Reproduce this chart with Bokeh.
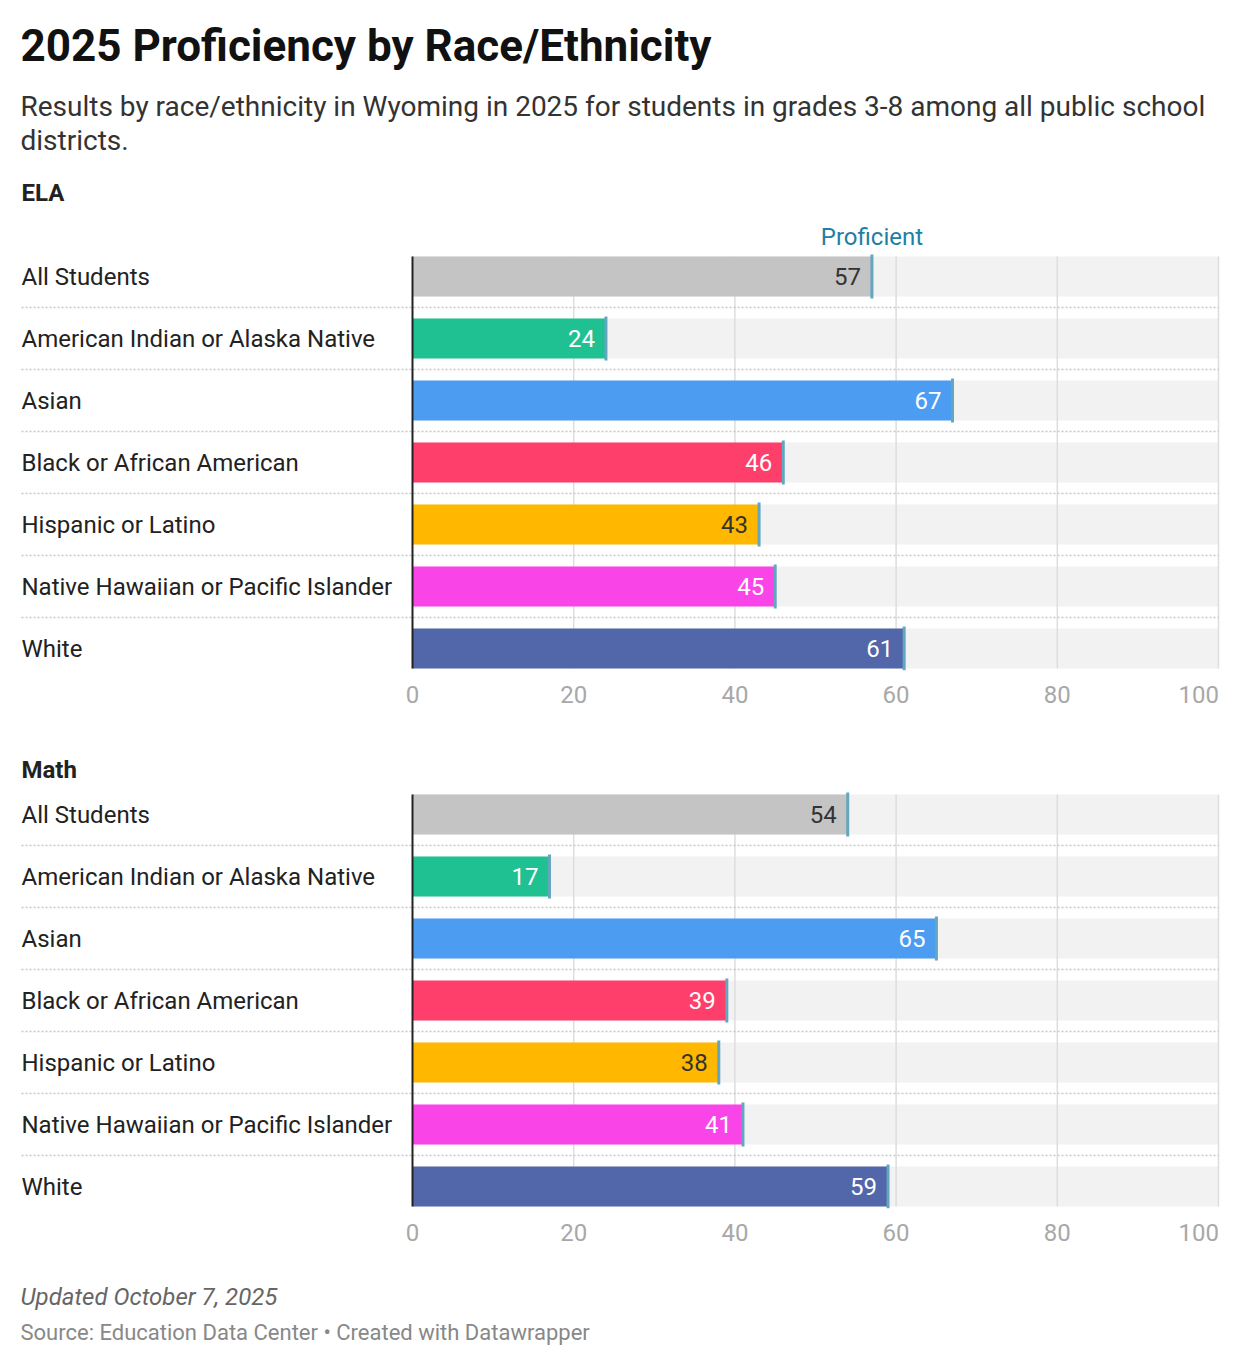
from bokeh.plotting import figure
from bokeh.layouts import column
from bokeh.models import Range1d, FixedTicker
from bokeh.core.properties import value
from bokeh.embed import file_html
from bokeh.resources import INLINE

# ---------------- data ----------------
groups = ["All Students", "American Indian or Alaska Native", "Asian",
          "Black or African American", "Hispanic or Latino",
          "Native Hawaiian or Pacific Islander", "White"]
ela_values = [57, 24, 67, 46, 43, 45, 61]
math_values = [54, 17, 65, 39, 38, 41, 59]
bar_colors = ["#c4c4c4", "#1fc192", "#4c9cf2", "#ff3f6b", "#ffb700", "#f944e8", "#5266aa"]
value_label_colors = ["#333333", "#ffffff", "#ffffff", "#ffffff", "#333333", "#ffffff", "#ffffff"]
x_tick_values = [0, 20, 40, 60, 80, 100]
x_tick_labels = ["0", "20", "40", "60", "80", "100"]
grid_values = [20, 40, 60, 80, 100]
title_text = "2025 Proficiency by Race/Ethnicity"
subtitle_lines = ["Results by race/ethnicity in Wyoming in 2025 for students in grades 3-8 among all public school",
                  "districts."]
panel_titles = ["ELA", "Math"]
marker_label = "Proficient"
note_text = "Updated October 7, 2025"
source_text = "Source: Education Data Center \u2022 Created with Datawrapper"

# ---------------- layout constants ----------------
FONT = value("Roboto")
W = 1224
PX_PER_UNIT = 8.06
ZERO_PX = 412                      # in-figure pixel of value 0
X_START = -ZERO_PX / PX_PER_UNIT
X_END = (W - ZERO_PX) / PX_PER_UNIT
LABEL_X = (21 - ZERO_PX) / PX_PER_UNIT
ROW_PX = 62.0
BAR_H = 40.0 / ROW_PX
HALF = BAR_H / 2
MARK_HALF = 22.0 / ROW_PX
AX_MAX = x_tick_values[-1]
FS = "24px"


def base_fig(height, x_range, y_range, axis=False, bottom=0):
    p = figure(width=W, height=height, x_range=x_range, y_range=y_range,
               toolbar_location=None, output_backend="svg",
               x_axis_location="below" if axis else None, y_axis_location=None,
               min_border_left=0, min_border_right=0, min_border_top=0,
               min_border_bottom=bottom)
    p.outline_line_color = None
    p.background_fill_color = "white"
    p.border_fill_color = "white"
    for g in p.grid:
        g.visible = False
    return p


# ---------------- header ----------------
HDR_H = 210
hdr = base_fig(HDR_H, Range1d(0, W), Range1d(HDR_H, 0))
hdr.text(x=[20], y=[45], text=[title_text], text_font=FONT, text_font_style="bold",
         text_font_size="44px", text_color="#111111", text_baseline="middle")
hdr.text(x=[20, 20], y=[106, 140], text=subtitle_lines, text_font=FONT,
         text_font_size="28px", text_color="#333333", text_baseline="middle")
hdr.text(x=[21], y=[192], text=[panel_titles[0]], text_font=FONT, text_font_style="bold",
         text_font_size=FS, text_color="#222222", text_baseline="middle")


def panel(vals, height, frame_h, first_row_px, title=None, title_px=None, marker_text=None):
    n = len(groups)
    rows = list(range(n))
    yr = Range1d(start=(frame_h - first_row_px) / ROW_PX, end=-first_row_px / ROW_PX)
    p = base_fig(height, Range1d(X_START, X_END), yr, axis=True, bottom=height - frame_h)

    # background tracks
    p.hbar(y=rows, left=0, right=AX_MAX, height=BAR_H, fill_color="#f2f2f2", line_color=None)
    # vertical gridlines
    p.segment(x0=grid_values, x1=grid_values, y0=-HALF, y1=n - 1 + HALF,
              line_color="#dddddd", line_width=1.5)
    # dotted row separators
    seps = [r + 0.5 for r in rows[:-1]]
    p.segment(x0=LABEL_X, x1=AX_MAX, y0=seps, y1=seps, line_color="#c8c8c8",
              line_width=1.5, line_dash="2 2")
    # bars
    p.hbar(y=rows, left=0, right=vals, height=BAR_H, fill_color=bar_colors, line_color=None)
    # proficiency markers
    p.segment(x0=vals, x1=vals, y0=[r - MARK_HALF for r in rows], y1=[r + MARK_HALF for r in rows],
              line_color="#63a6bf", line_width=3)
    # zero line
    p.segment(x0=[0], x1=[0], y0=[-HALF], y1=[n - 1 + HALF], line_color="#222222", line_width=2)
    # value labels
    p.text(x=vals, y=rows, text=[str(v) for v in vals], text_align="right", text_baseline="middle",
           x_offset=-11, text_color=value_label_colors, text_font=FONT, text_font_size=FS)
    # category labels
    p.text(x=LABEL_X, y=rows, text=groups, text_align="left", text_baseline="middle",
           text_color="#222222", text_font=FONT, text_font_size=FS)
    if title is not None:
        p.text(x=[LABEL_X], y=[(title_px - first_row_px) / ROW_PX], text=[title],
               text_font=FONT, text_font_style="bold", text_font_size=FS,
               text_color="#222222", text_baseline="middle")
    if marker_text is not None:
        p.text(x=[vals[0]], y=[-40.0 / ROW_PX], text=[marker_text], text_align="center",
               text_baseline="middle", text_font=FONT, text_font_size=FS, text_color="#1f80a3")

    ax = p.xaxis[0]
    last = x_tick_values[-1] - 2.45
    ticks = x_tick_values[:-1] + [last]
    ax.ticker = FixedTicker(ticks=ticks)
    ax.major_label_overrides = {t: lab for t, lab in zip(ticks, x_tick_labels)}
    ax.axis_line_color = None
    ax.major_tick_line_color = None
    ax.minor_tick_line_color = None
    ax.major_label_standoff = 9
    ax.major_label_text_color = "#a8a8a8"
    ax.major_label_text_font = "Roboto"
    ax.major_label_text_font_size = FS
    return p


ela = panel(ela_values, 500, 460, 66, marker_text=marker_label)
math = panel(math_values, 540, 498, 104, title=panel_titles[1], title_px=59)

# ---------------- footer ----------------
FTR_H = 100
ftr = base_fig(FTR_H, Range1d(0, W), Range1d(FTR_H, 0))
ftr.text(x=[20], y=[46], text=[note_text], text_font=FONT, text_font_style="italic",
         text_font_size=FS, text_color="#666666", text_baseline="middle")
ftr.text(x=[20], y=[82], text=[source_text], text_font=FONT,
         text_font_size="22px", text_color="#888888", text_baseline="middle")

layout = column(hdr, ela, math, ftr, spacing=0)
open("out.html", "w").write(file_html(layout, INLINE))
